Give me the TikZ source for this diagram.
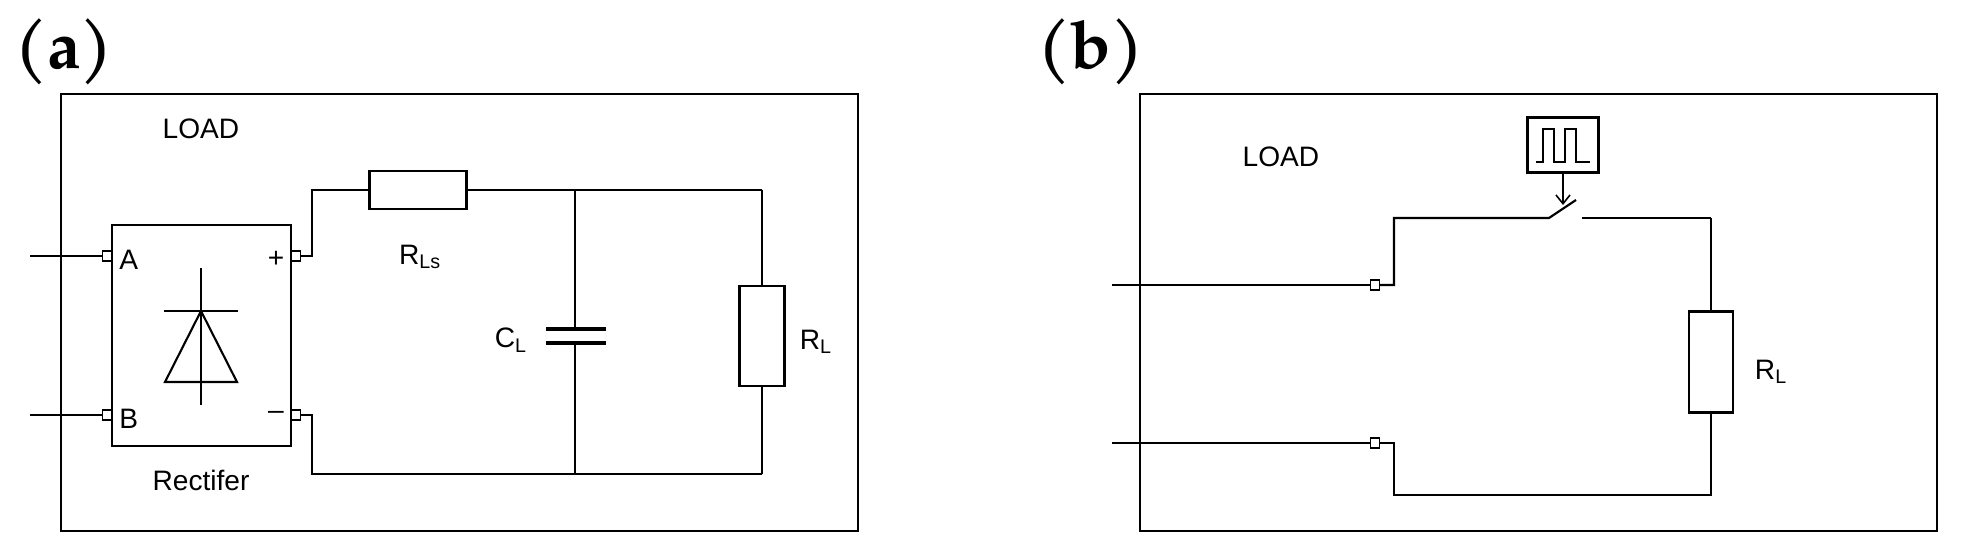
\documentclass[tikz,border=0pt]{standalone}
\usepackage{fontspec}
\setmainfont{Liberation Sans}
\newfontfamily\lbl{TeX Gyre Pagella}
\usetikzlibrary{arrows.meta}
\begin{document}
\begin{tikzpicture}[x=0.02cm,y=-0.02cm,
  frame/.style={line width=1.5pt},
  wire/.style={line width=1.2pt},
  comp/.style={draw,line width=1.2pt,fill=white,inner sep=0pt},
  term/.style={draw,line width=0.9pt,fill=white,minimum width=5pt,minimum height=6pt,inner sep=0pt},
  txt/.style={font=\fontsize{16}{18}\selectfont,inner sep=0pt},
  tag/.style={font=\lbl\fontsize{38}{40}\selectfont\bfseries,inner sep=0pt}]
\useasboundingbox (0,0) rectangle (1968,558);
% ---------- (a)
\node[tag] (la) at (64,52) {(a)};
\draw[frame] (61,94) rectangle (858,531);
\node[txt] (loada) at (201,129) {LOAD};
\node[comp,minimum width=179*0.02cm,minimum height=221*0.02cm] (rect) at (201.5,335.5) {};
\node[txt] (rectlbl) at (201,480) {Rectifer};
\node[term] (tA) at (107,256) {};
\node[term] (tB) at (107,415) {};
\node[term] (tP) at (296,256) {};
\node[term] (tM) at (296,415) {};
\coordinate (inA) at (30,256);
\coordinate (inB) at (30,415);
\draw[wire] (inA) -- (tA.west);
\draw[wire] (inB) -- (tB.west);
\node[txt,anchor=west] (lA) at (119,260) {A};
\node[txt,anchor=west] (lB) at (119,419) {B};
\node[txt] (lP) at (276,259) {+};
\node[txt] (lM) at (276,415) {\textendash};
% diode
\draw[wire] (201,268) -- (201,405);
\draw[wire] (164,311) -- (238,311);
\draw[wire] (201,311) -- (165,382) -- (237,382) -- cycle;
% wiring
\node[comp,minimum width=97*0.02cm,minimum height=38*0.02cm] (rls) at (418,190) {};
\node[txt] (rlsl) at (420,257) {R\textsubscript{Ls}};
\coordinate (c1) at (312,190);
\coordinate (c2) at (575,190);
\coordinate (c3) at (762,190);
\coordinate (c4) at (312,474);
\coordinate (c5) at (575,474);
\coordinate (c6) at (762,474);
\draw[wire] (tP.east) -| (c1) -- (rls.west);
\draw[wire] (rls.east) -- (c3);
\draw[wire] (tM.east) -| (c4) -- (c6);
% capacitor
\coordinate (p1) at (575,329);
\coordinate (p2) at (575,343);
\draw[wire] (c2) -- (p1);
\draw[wire] (p2) -- (c5);
\draw[line width=1.8pt] (546,329) -- (606,329);
\draw[line width=1.8pt] (546,343) -- (606,343);
\node[txt] (cl) at (511,340) {C\textsubscript{L}};
% RL
\node[comp,minimum width=45*0.02cm,minimum height=100*0.02cm] (rl) at (762,336) {};
\draw[wire] (c3) -- (rl.north);
\draw[wire] (rl.south) -- (c6);
\node[txt] (rll) at (816,342) {R\textsubscript{L}};
% ---------- (b)
\node[tag] (lb) at (1091,52) {(b)};
\draw[frame] (1140,94) rectangle (1937,531);
\node[txt] (loadb) at (1281,157) {LOAD};
\node[term] (tb1) at (1375,285) {};
\node[term] (tb2) at (1375,443) {};
\coordinate (ib1) at (1112,285);
\coordinate (ib2) at (1112,443);
\draw[wire] (ib1) -- (tb1.west);
\draw[wire] (ib2) -- (tb2.west);
\coordinate (s0) at (1394,218);
\coordinate (s1) at (1549,218);
\coordinate (s2) at (1576,200);
\coordinate (s3) at (1582,218);
\coordinate (s4) at (1711,218);
\coordinate (b1) at (1394,495);
\coordinate (b2) at (1711,495);
\draw[wire] (tb1.east) -| (s0) -- (s1) -- (s2);
\draw[wire] (s3) -- (s4);
\node[comp,minimum width=44*0.02cm,minimum height=101*0.02cm] (rlb) at (1711,362) {};
\draw[wire] (s4) -- (rlb.north);
\draw[wire] (rlb.south) -- (b2) -- (b1) |- (tb2.east);
\node[txt] (rlbl) at (1771,372) {R\textsubscript{L}};
% pulse generator
\node[comp,minimum width=71*0.02cm,minimum height=55*0.02cm] (pg) at (1563,145) {};
\draw[line width=0.9pt] (1536,162) -- (1543,162) -- (1543,129) -- (1554,129) -- (1554,162) -- (1565,162) -- (1565,129) -- (1576,129) -- (1576,162) -- (1590,162);
\coordinate (arr) at (1563,205);
\draw[line width=0.9pt,-{Straight Barb[length=5pt,width=8pt]}] (pg.south) -- (arr);
\end{tikzpicture}
\end{document}
